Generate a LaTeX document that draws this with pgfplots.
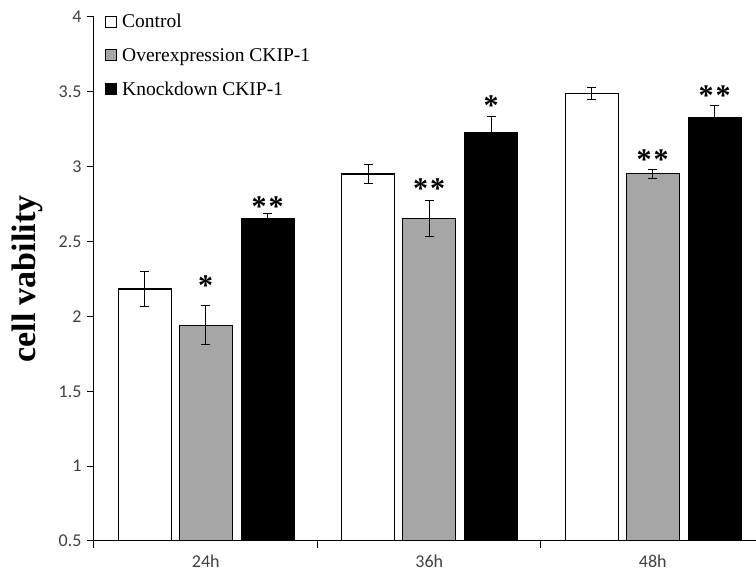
\documentclass[border=0pt]{standalone}
\usepackage{fontspec}
\setmainfont{Liberation Serif}
\newfontfamily\carlito{Carlito}
\usepackage{pgfplots}
\pgfplotsset{compat=1.18}
\definecolor{bargray}{HTML}{A6A6A6}
\definecolor{ticktext}{HTML}{404040}
\pgfplotsset{sqlegend/.style={legend image code/.code={\draw[##1,line width=1pt] (0pt,-5.5pt) rectangle (11pt,5.5pt);}}}
\begin{document}
\begin{tikzpicture}
\useasboundingbox (-94pt,-32pt) rectangle (662pt,541pt);
\begin{axis}[
  scale only axis,
  width=662pt, height=524pt,
  xmin=-0.5, xmax=2.462,
  ymin=0.5, ymax=4,
  axis x line*=bottom, axis y line*=left,
  axis line style={line width=1pt, black},
  ytick={0.5,1,...,4},
  yticklabels={0.5,1,1.5,2,2.5,3,3.5,4},
  xtick={0,1,2},
  xticklabels={24h,36h,48h},
  minor xtick={-0.5,0.5,1.5},
  major x tick style={draw=none},
  tick align=outside,
  major tick length=7pt, minor tick length=7pt,
  tick style={line width=1pt, black},
  ticklabel style={font=\carlito\fontsize{18}{21}\selectfont, text=ticktext},
  yticklabel style={xshift=-2pt},
  xticklabel style={yshift=-3pt},
  /pgf/number format/assume math mode=true,
  ylabel={\fontsize{34}{36}\selectfont\bfseries cell vability},
  ylabel style={at={(axis description cs:-0.1,0.5)}, anchor=center},
  legend style={at={(axis description cs:0,1)}, anchor=north west, xshift=8pt, yshift=7pt,
    draw=none, fill=none, font=\fontsize{19.5}{22}\selectfont, row sep=15pt,
    legend cell align=left},
  ybar, bar width=0.237,
]
\addplot[ybar, bar shift=0pt, fill=white, draw=black, line width=1.3pt, sqlegend,
  error bars/.cd, y dir=both, y explicit,
  error mark options={rotate=90, mark size=4.5pt, line width=1pt, black},
  error bar style={line width=1pt, black}]
  coordinates {(-0.273,2.183) +- (0,0.117) (0.727,2.951) +- (0,0.064) (1.727,3.488) +- (0,0.042)};
\addplot[ybar, bar shift=0pt, fill=bargray, draw=black, line width=1.3pt, sqlegend,
  error bars/.cd, y dir=both, y explicit,
  error mark options={rotate=90, mark size=4.5pt, line width=1pt, black},
  error bar style={line width=1pt, black}]
  coordinates {(0,1.94) +- (0,0.13) (1,2.652) +- (0,0.12) (2,2.953) +- (0,0.03)};
\addplot[ybar, bar shift=0pt, fill=black, draw=black, line width=1.3pt, sqlegend,
  error bars/.cd, y dir=both, y explicit,
  error mark options={rotate=90, mark size=4.5pt, line width=1pt, black},
  error bar style={line width=1pt, black}]
  coordinates {(0.277,2.65) +- (0,0.035) (1.277,3.227) +- (0,0.11) (2.277,3.33) +- (0,0.08)};
\legend{\hspace{3pt}Control, \hspace{3pt}Overexpression CKIP-1, \hspace{3pt}Knockdown CKIP-1}
\begin{scope}[every node/.style={anchor=base, font=\fontsize{30}{32}\selectfont\bfseries, inner sep=0pt}]
\node at (axis cs:0,2.14) {*};
\node at (axis cs:0.277,2.67) {*\hspace{2pt}*};
\node at (axis cs:1,2.787) {*\hspace{2pt}*};
\node at (axis cs:1.277,3.34) {*};
\node at (axis cs:2,2.98) {*\hspace{2pt}*};
\node at (axis cs:2.277,3.41) {*\hspace{2pt}*};
\end{scope}
\end{axis}
\end{tikzpicture}
\end{document}
